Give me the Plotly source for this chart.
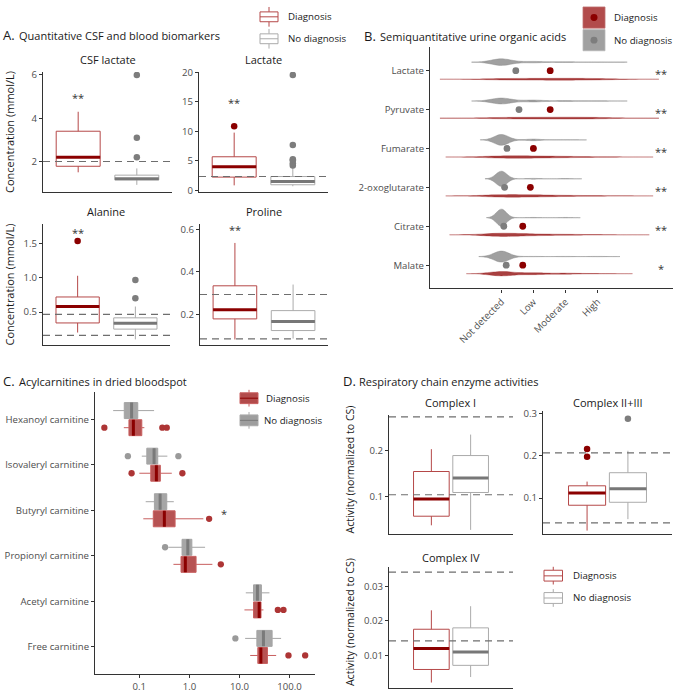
import numpy as np
import plotly.graph_objects as go

# ============================ DATA ============================
# Panel A: quantitative CSF and blood biomarkers (mmol/L); box stats
A_NAMES = ["CSF lactate", "Lactate", "Alanine", "Proline"]
A_DIAG_LO = [1.50, 0.85, 0.20, 0.081]
A_DIAG_Q1 = [1.78, 2.25, 0.34, 0.178]
A_DIAG_MED = [2.20, 4.00, 0.58, 0.221]
A_DIAG_Q3 = [3.40, 5.70, 0.72, 0.334]
A_DIAG_HI = [4.30, 9.80, 1.03, 0.536]
A_DIAG_OUT = [[], [10.9], [1.54], []]
A_NODIAG_LO = [0.92, 0.70, 0.10, 0.085]
A_NODIAG_Q1 = [1.15, 0.95, 0.25, 0.123]
A_NODIAG_MED = [1.20, 1.50, 0.335, 0.166]
A_NODIAG_Q3 = [1.37, 2.35, 0.415, 0.217]
A_NODIAG_HI = [1.68, 3.90, 0.58, 0.340]
A_NODIAG_OUT = [[2.2, 3.1, 6.0], [4.2, 4.6, 5.1, 5.3, 7.7, 19.6], [0.70, 0.97], []]
A_REF = [[2.0], [2.35], [0.158, 0.465], [0.084, 0.293]]
A_SIG = ["**", "**", "**", "**"]
A_TICKS = [[2, 4, 6], [0, 5, 10, 15, 20], [0.5, 1.0, 1.5], [0.2, 0.4, 0.6]]

# Panel B: semiquantitative urine organic acids (counts per level)
B_ACIDS = ["Lactate", "Pyruvate", "Fumarate", "2-oxoglutarate", "Citrate", "Malate"]
B_LEVELS = ["Not detected", "Low", "Moderate", "High"]
B_NODIAG_N = [[29, 6, 3, 2], [26, 8, 4, 2], [34, 5, 1, 0], [37, 2, 1, 0], [38, 1, 1, 0], [37, 1, 1, 1]]
B_DIAG_N = [[5, 5, 6, 5], [5, 5, 6, 5], [8, 7, 4, 2], [9, 7, 3, 2], [12, 5, 3, 1], [12, 5, 3, 1]]
B_SIG = ["**", "**", "**", "**", "**", "*"]

# Panel C: acylcarnitines in dried bloodspot (log scale)
C_NAMES = ["Hexanoyl carnitine", "Isovaleryl carnitine", "Butyryl carnitine",
           "Propionyl carnitine", "Acetyl carnitine", "Free carnitine"]
C_NODIAG_LO = [0.030, 0.112, 0.134, 0.38, 13.4, 13.0]
C_NODIAG_Q1 = [0.050, 0.141, 0.200, 0.714, 19.1, 22.3]
C_NODIAG_MED = [0.070, 0.197, 0.260, 0.93, 22.9, 30.2]
C_NODIAG_Q3 = [0.093, 0.233, 0.353, 1.12, 27.5, 45.0]
C_NODIAG_HI = [0.197, 0.363, 0.488, 2.06, 39.8, 68.0]
C_NODIAG_OUT = [[], [0.059, 0.603], [], [0.327], [], [8.3]]
C_DIAG_LO = [0.049, 0.100, 0.120, 0.48, 12.6, 16.4]
C_DIAG_Q1 = [0.062, 0.169, 0.190, 0.68, 19.1, 23.3]
C_DIAG_MED = [0.076, 0.219, 0.316, 0.83, 24.8, 26.8]
C_DIAG_Q3 = [0.112, 0.263, 0.518, 1.36, 27.0, 36.3]
C_DIAG_HI = [0.126, 0.445, 1.90, 2.88, 30.2, 54.2]
C_DIAG_OUT = [[0.020, 0.288, 0.353], [0.070, 0.724], [2.48], [4.25], [58.6, 75.9], [95.5, 206.0]]
C_SIG = ["", "", "*", "", "", ""]
C_TICKS = [0.1, 1.0, 10.0, 100.0]
C_TICKTEXT = ["0.1", "1.0", "10.0", "100.0"]

# Panel D: respiratory chain enzyme activities (normalized to CS)
D_NAMES = ["Complex I", "Complex II+III", "Complex IV"]
D_DIAG_LO = [0.037, 0.023, 0.0021]
D_DIAG_Q1 = [0.057, 0.083, 0.0059]
D_DIAG_MED = [0.095, 0.112, 0.0120]
D_DIAG_Q3 = [0.155, 0.129, 0.0176]
D_DIAG_HI = [0.204, 0.139, 0.0231]
D_DIAG_OUT = [[], [0.198, 0.216], []]
D_NODIAG_LO = [0.027, 0.050, 0.0037]
D_NODIAG_Q1 = [0.109, 0.090, 0.0071]
D_NODIAG_MED = [0.141, 0.122, 0.0110]
D_NODIAG_Q3 = [0.190, 0.160, 0.0180]
D_NODIAG_HI = [0.236, 0.212, 0.0243]
D_NODIAG_OUT = [[], [0.288], []]
D_REF = [[0.104, 0.275], [0.041, 0.207], [0.0142, 0.0342]]
D_TICKS = [[0.1, 0.2], [0.1, 0.2, 0.3], [0.01, 0.02, 0.03]]

# ====================== STYLE / GEOMETRY ======================
W, H = 674, 696
FONT = "Open Sans"
INK = "#1a1a1a"
TICKC = "#4d4d4d"
AXC = "#333333"
DARKRED = "#8b0000"
RED_LINE = "#b54848"
GREY_LINE = "#ababab"
GREY_MED = "#777777"
GREY_PT = "#7d7d7d"
REF_LINE = dict(color="#6e6e6e", width=1.2, dash="7px,5px")

A_BOX = [(43, 67, 172, 189), (199, 67, 328, 189), (43, 222, 170, 344), (200, 222, 328, 344)]
A_YRANGE = [[0.59, 6.14], [-0.28, 20.1], [0.024, 1.78], [0.057, 0.623]]
A_TICKFMT = ["", "", ".1f", ".1f"]
A_SIG_Y = [5.1, 15.5, 1.71, 0.615]
A_BOXW = 0.75

B_BOXPX = (430, 42, 673, 287)
B_XRANGE = [-2.23, 5.36]
B_OFF = 0.22
B_BW_NODIAG = [0.31, 0.31, 0.22, 0.17, 0.155, 0.235]
B_BW_DIAG = [0.64, 0.64, 0.58, 0.58, 0.54, 0.365]
B_SIG_X = 5.0

C_BOXPX = (95, 392, 315, 679)
C_XRANGE = [-1.886, 2.51]
C_OFF = 0.1875
C_BOXW = 0.35
C_SIG_X = 4.9

D_BOX = [(389, 416, 513, 536), (543, 412, 672, 536), (389, 570, 513, 693)]
D_YRANGE = [[0.019, 0.278], [0.016, 0.305], [0.0005, 0.0357]]
D_TICKFMT = [".1f", ".1f", ".2f"]
D_OFF = 0.19
D_BOXW = 0.345


def fx(p):
    return p / W


def fy(p):
    return 1 - p / H


fig = go.Figure()
layout = {}
shapes = []
annotations = []
_axn = [0]

AXBASE = dict(showline=True, linecolor=AXC, linewidth=1.1, showgrid=False, zeroline=False,
              ticks="outside", ticklen=3, tickwidth=1, tickcolor=AXC,
              tickfont=dict(family=FONT, size=9.6, color=TICKC), fixedrange=True)


def add_axes(box, xrange, yrange, xextra=None, yextra=None):
    _axn[0] += 1
    n = _axn[0]
    s = "" if n == 1 else str(n)
    x0, y0, x1, y1 = box
    xa = dict(AXBASE)
    xa.update(domain=[fx(x0), fx(x1)], range=xrange, anchor="y" + s)
    ya = dict(AXBASE)
    ya.update(domain=[fy(y1), fy(y0)], range=yrange, anchor="x" + s)
    if xextra:
        xa.update(xextra)
    if yextra:
        ya.update(yextra)
    layout["xaxis" + s] = xa
    layout["yaxis" + s] = ya
    return "x" + s, "y" + s


def ann(text, x, y, size=11, color=INK, xanchor="left", yanchor="middle", angle=0,
        xref="paper", yref="paper", yshift=0):
    if xref == "paper":
        x = fx(x)
    if yref == "paper":
        y = fy(y)
    annotations.append(dict(text=text, x=x, y=y, xref=xref, yref=yref, showarrow=False,
                            xanchor=xanchor, yanchor=yanchor, textangle=angle, yshift=yshift,
                            font=dict(family=FONT, size=size, color=color)))


def pline(x0, y0, x1, y1, color, width=1):
    shapes.append(dict(type="line", xref="paper", yref="paper", x0=fx(x0), y0=fy(y0),
                       x1=fx(x1), y1=fy(y1), line=dict(color=color, width=width)))


def box_key(x0, x1, yb0, yb1, ymed, stub, line, fill, med):
    xm = (x0 + x1) / 2
    pline(xm, yb0 - stub, xm, yb0, line)
    pline(xm, yb1, xm, yb1 + stub, line)
    shapes.append(dict(type="rect", xref="paper", yref="paper", x0=fx(x0), x1=fx(x1),
                       y0=fy(yb1), y1=fy(yb0), fillcolor=fill, line=dict(color=line, width=1)))
    pline(x0, ymed, x1, ymed, med)


def vbox(xa, ya, pos, lo, q1, med, q3, hi, out, lc, mc, pc, w, fill="rgba(255,255,255,0)"):
    fig.add_trace(go.Box(x=[pos], q1=[q1], median=[med], q3=[q3], lowerfence=[lo],
                         upperfence=[hi], width=w, whiskerwidth=0, fillcolor=fill,
                         line=dict(color=lc, width=1), boxpoints=False, hoverinfo="skip",
                         showlegend=False, xaxis=xa, yaxis=ya))
    fig.add_trace(go.Scatter(x=[pos - w / 2, pos + w / 2], y=[med, med], mode="lines",
                             line=dict(color=mc, width=3), hoverinfo="skip",
                             showlegend=False, xaxis=xa, yaxis=ya))
    if out:
        fig.add_trace(go.Scatter(x=[pos] * len(out), y=out, mode="markers",
                                 marker=dict(color=pc, size=6.5), hoverinfo="skip",
                                 showlegend=False, xaxis=xa, yaxis=ya))


def ref_lines(xa, ya, vals):
    for v in vals:
        shapes.append(dict(type="line", xref=xa + " domain", x0=0, x1=1, yref=ya, y0=v, y1=v,
                           line=REF_LINE))


# ============================ PANEL A ============================
ann("A.", 1, 29, size=13)
ann("Quantitative CSF and blood biomarkers", 16.5, 29.5, size=11)
for i, name in enumerate(A_NAMES):
    xa, ya = add_axes(A_BOX[i], [0.4, 2.6], A_YRANGE[i],
                      xextra=dict(ticks="", showticklabels=False),
                      yextra=dict(tickvals=A_TICKS[i], tickformat=A_TICKFMT[i]))
    vbox(xa, ya, 1, A_DIAG_LO[i], A_DIAG_Q1[i], A_DIAG_MED[i], A_DIAG_Q3[i], A_DIAG_HI[i],
         A_DIAG_OUT[i], RED_LINE, DARKRED, DARKRED, A_BOXW)
    vbox(xa, ya, 2, A_NODIAG_LO[i], A_NODIAG_Q1[i], A_NODIAG_MED[i], A_NODIAG_Q3[i],
         A_NODIAG_HI[i], A_NODIAG_OUT[i], GREY_LINE, GREY_MED, GREY_PT, A_BOXW)
    ref_lines(xa, ya, A_REF[i])
    bx = A_BOX[i]
    ann(name, (bx[0] + bx[2]) / 2, bx[1] - 13, size=11, xanchor="center")
    ann(A_SIG[i], 1, A_SIG_Y[i], size=11, color="#333333", xanchor="center",
        xref=xa, yref=ya, yshift=-3)
ann("Concentration (mmol/L)", 10, 128, size=11, xanchor="center", angle=-90)
ann("Concentration (mmol/L)", 10, 283, size=11, xanchor="center", angle=-90)
# legend A
box_key(260, 278, 6, 16, 11, 5, RED_LINE, "white", RED_LINE)
box_key(260, 278, 28.3, 38.3, 33.3, 5, GREY_LINE, "white", GREY_LINE)
ann("Diagnosis", 286, 11, size=9.7)
ann("No diagnosis", 286, 33.3, size=9.7)

# ============================ PANEL B ============================
ann("B.", 362, 30, size=13)
ann("Semiquantitative urine organic acids", 377.5, 30.5, size=11)
nB = len(B_ACIDS)
xa, ya = add_axes(B_BOXPX, B_XRANGE, [0.4, nB + 0.6],
                  xextra=dict(tickvals=list(range(len(B_LEVELS))), ticktext=B_LEVELS,
                              tickangle=-45),
                  yextra=dict(tickvals=[nB - k for k in range(nB)], ticktext=B_ACIDS))
levels = np.arange(len(B_LEVELS))
for i, acid in enumerate(B_ACIDS):
    pos = nB - i
    for counts, off, bw, fill, lc in [
        (B_NODIAG_N[i], B_OFF, B_BW_NODIAG[i], "rgba(150,150,150,0.9)", "rgba(140,140,140,0.9)"),
        (B_DIAG_N[i], -B_OFF, B_BW_DIAG[i], "rgba(139,0,0,0.75)", "rgba(150,20,20,0.6)")]:
        vals = np.repeat(levels, counts).astype(float)
        fig.add_trace(go.Violin(x=vals, y0=pos + off, orientation="h", side="both",
                                bandwidth=bw, spanmode="manual",
                                span=[vals.min() - 3 * bw, vals.max() + 3 * bw],
                                points=False, fillcolor=fill, line=dict(color=lc, width=0.5),
                                scalemode="width", scalegroup="urine",
                                hoverinfo="skip", showlegend=False, xaxis=xa, yaxis=ya))
    for counts, dotc in [(B_NODIAG_N[i], GREY_PT), (B_DIAG_N[i], DARKRED)]:
        c = np.array(counts)
        mean = float((levels * c).sum() / c.sum())
        fig.add_trace(go.Scatter(x=[mean], y=[pos], mode="markers",
                                 marker=dict(color=dotc, size=6.8), hoverinfo="skip",
                                 showlegend=False, xaxis=xa, yaxis=ya))
    ann(B_SIG[i], B_SIG_X, pos, size=11, color="#333333", xanchor="center",
        xref=xa, yref=ya, yshift=-3)
# legend B
shapes.append(dict(type="rect", xref="paper", yref="paper", x0=fx(583), x1=fx(605),
                   y0=fy(22.5), y1=fy(1), fillcolor="rgba(165,45,45,0.85)",
                   line=dict(color="rgba(190,110,110,1)", width=0.8)))
shapes.append(dict(type="rect", xref="paper", yref="paper", x0=fx(583), x1=fx(605),
                   y0=fy(45.5), y1=fy(24), fillcolor="rgba(160,160,160,1)",
                   line=dict(color="rgba(185,185,185,1)", width=0.8)))
for yy, col in [(11.7, DARKRED), (34.7, GREY_PT)]:
    shapes.append(dict(type="circle", xref="paper", yref="paper", x0=fx(590.5), x1=fx(597.5),
                       y0=fy(yy + 3.5), y1=fy(yy - 3.5), fillcolor=col, line=dict(width=0)))
ann("Diagnosis", 612, 11.7, size=9.7)
ann("No diagnosis", 612, 34.7, size=9.7)

# ============================ PANEL C ============================
ann("C.", 1, 381, size=13)
ann("Acylcarnitines in dried bloodspot", 16.5, 381.5, size=11)
nC = len(C_NAMES)
xa, ya = add_axes(C_BOXPX, C_XRANGE, [0.4, nC + 0.6],
                  xextra=dict(type="log", tickvals=C_TICKS, ticktext=C_TICKTEXT),
                  yextra=dict(tickvals=[nC - k for k in range(nC)], ticktext=C_NAMES))
posC = np.array([nC - k for k in range(nC)], dtype=float)
for sign, lo, q1, med, q3, hi, out, fill, lc, mc, pc in [
    (1, C_NODIAG_LO, C_NODIAG_Q1, C_NODIAG_MED, C_NODIAG_Q3, C_NODIAG_HI, C_NODIAG_OUT,
     "rgba(150,150,150,0.85)", "rgba(165,165,165,1)", "#7a7a7a", "#9a9a9a"),
    (-1, C_DIAG_LO, C_DIAG_Q1, C_DIAG_MED, C_DIAG_Q3, C_DIAG_HI, C_DIAG_OUT,
     "rgba(165,40,40,0.8)", "rgba(200,95,95,1)", DARKRED, "#ad3535")]:
    p = posC + sign * C_OFF
    fig.add_trace(go.Box(y=list(p), q1=q1, median=med, q3=q3, lowerfence=lo, upperfence=hi,
                         orientation="h", width=C_BOXW, whiskerwidth=0, fillcolor=fill,
                         line=dict(color=lc, width=1), boxpoints=False, hoverinfo="skip",
                         showlegend=False, xaxis=xa, yaxis=ya))
    mx, my = [], []
    for k in range(nC):
        mx += [med[k], med[k], None]
        my += [p[k] - C_BOXW / 2, p[k] + C_BOXW / 2, None]
    fig.add_trace(go.Scatter(x=mx, y=my, mode="lines", line=dict(color=mc, width=3),
                             hoverinfo="skip", showlegend=False, xaxis=xa, yaxis=ya))
    ox, oy = [], []
    for k in range(nC):
        ox += out[k]
        oy += [p[k]] * len(out[k])
    fig.add_trace(go.Scatter(x=ox, y=oy, mode="markers", marker=dict(color=pc, size=6.3),
                             hoverinfo="skip", showlegend=False, xaxis=xa, yaxis=ya))
for k in range(nC):
    if C_SIG[k]:
        ann(C_SIG[k], float(np.log10(C_SIG_X)), posC[k], size=11, color="#333333",
            xanchor="center", xref=xa, yref=ya, yshift=-3)
# legend C
box_key(240, 258, 393, 404, 398.5, 3, "rgba(200,95,95,1)", "rgba(170,55,55,0.9)", DARKRED)
box_key(240, 258, 415.5, 426.5, 421, 3, "rgba(170,170,170,1)", "rgba(158,158,158,1)", "#7a7a7a")
ann("Diagnosis", 264, 398.5, size=9.7)
ann("No diagnosis", 262, 421, size=9.7)

# ============================ PANEL D ============================
ann("D.", 340.5, 381, size=13)
ann("Respiratory chain enzyme activities", 356.5, 381.5, size=11)
for i, name in enumerate(D_NAMES):
    xa, ya = add_axes(D_BOX[i], [0.4, 1.6], D_YRANGE[i],
                      xextra=dict(ticks="", showticklabels=False),
                      yextra=dict(tickvals=D_TICKS[i], tickformat=D_TICKFMT[i]))
    vbox(xa, ya, 1 - D_OFF, D_DIAG_LO[i], D_DIAG_Q1[i], D_DIAG_MED[i], D_DIAG_Q3[i],
         D_DIAG_HI[i], D_DIAG_OUT[i], RED_LINE, DARKRED, DARKRED, D_BOXW)
    vbox(xa, ya, 1 + D_OFF, D_NODIAG_LO[i], D_NODIAG_Q1[i], D_NODIAG_MED[i], D_NODIAG_Q3[i],
         D_NODIAG_HI[i], D_NODIAG_OUT[i], GREY_LINE, GREY_MED, GREY_PT, D_BOXW)
    ref_lines(xa, ya, D_REF[i])
    bx = D_BOX[i]
    ty = 402.5 if i < 2 else 560
    ann(name, (bx[0] + bx[2]) / 2, ty, size=11, xanchor="center")
ann("Activity (normalized to CS)", 350, 471, size=10.6, xanchor="center", angle=-90)
ann("Activity (normalized to CS)", 350, 626, size=10.6, xanchor="center", angle=-90)
# legend D
box_key(544, 562.5, 573.3, 584.3, 579, 3.5, RED_LINE, "white", RED_LINE)
box_key(544, 562.5, 596, 607, 601.5, 3.5, GREY_LINE, "white", GREY_LINE)
ann("Diagnosis", 571, 578.5, size=9.7)
ann("No diagnosis", 571, 601.5, size=9.7)

layout.update(width=W, height=H, margin=dict(l=0, r=0, t=0, b=0),
              paper_bgcolor="white", plot_bgcolor="white",
              font=dict(family=FONT, size=10, color=INK),
              boxmode="overlay", violinmode="overlay", violingap=0, violingroupgap=0,
              showlegend=False, shapes=shapes, annotations=annotations)
fig.update_layout(**layout)
fig.write_html("out.html", config={"displayModeBar": False},
               post_script="document.body.style.margin='0';document.body.style.overflow='hidden';")
